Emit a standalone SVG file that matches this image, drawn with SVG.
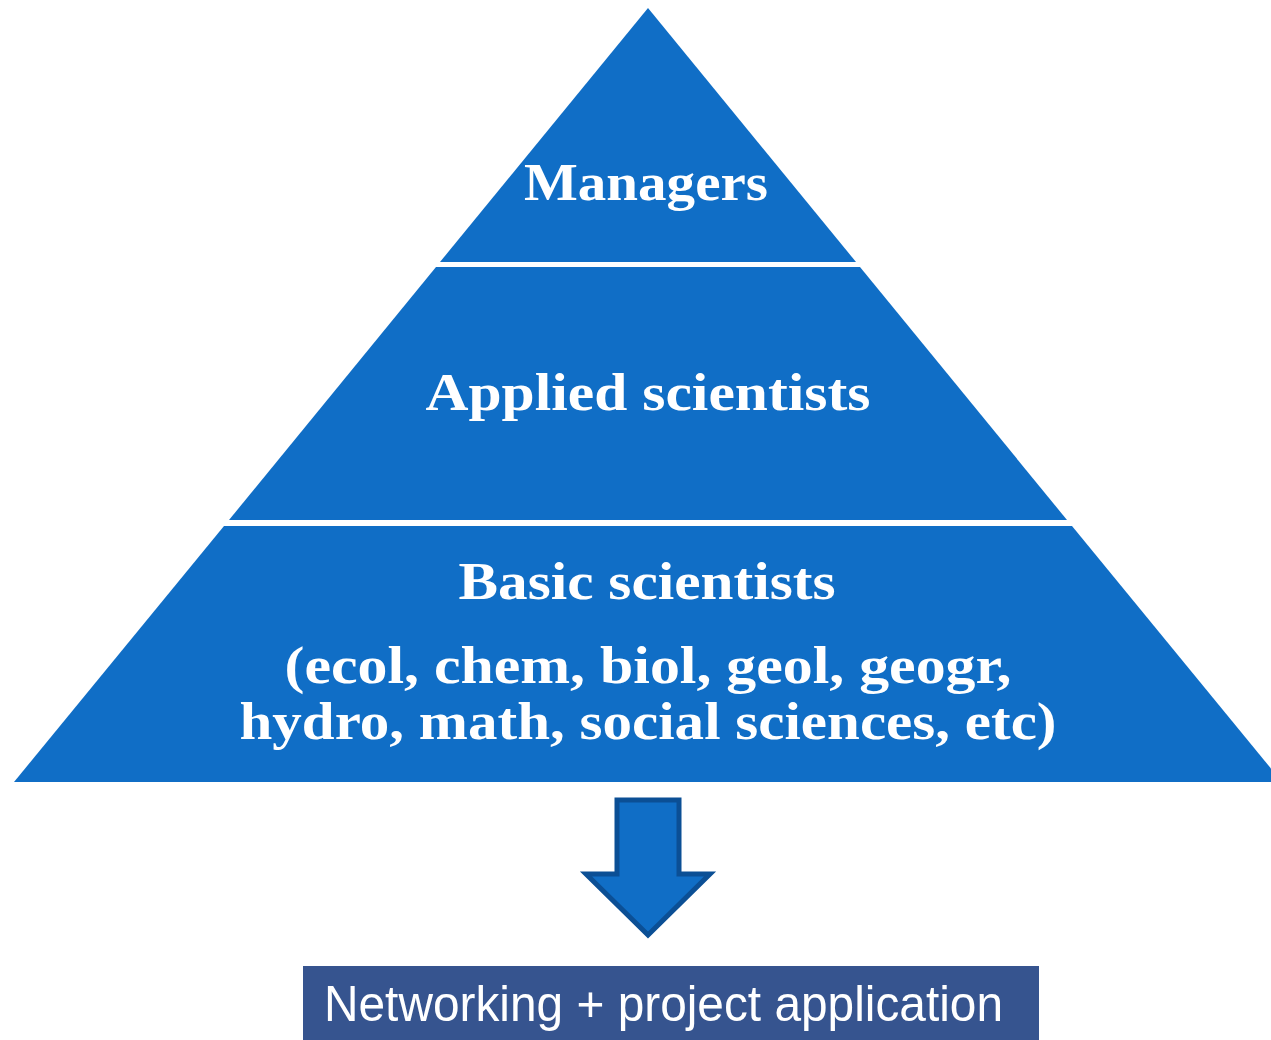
<svg xmlns="http://www.w3.org/2000/svg" width="1271" height="1040" viewBox="0 0 1271 1040">
  <style>
    .tier { fill: #106EC6; }
    .label { font-family: "Liberation Serif", "DejaVu Serif", serif; font-weight: bold; font-size: 53px; fill: #FFFFFF; }
    .box-text { font-family: "Liberation Sans", Arial, sans-serif; font-size: 50px; fill: #FFFFFF; }
  </style>
  <rect width="1271" height="1040" fill="#FFFFFF"/>

  <!-- pyramid tiers -->
  <g id="managers">
    <polygon class="tier" points="648,8 856,262 440,262"/>
    <text class="label" x="646" y="200" text-anchor="middle" textLength="244" lengthAdjust="spacingAndGlyphs">Managers</text>
  </g>
  <g id="applied-scientists">
    <polygon class="tier" points="436,267 860,267 1067,520 229,520"/>
    <text class="label" x="648" y="410" text-anchor="middle" textLength="445" lengthAdjust="spacingAndGlyphs">Applied scientists</text>
  </g>
  <g id="basic-scientists">
    <polygon class="tier" points="224,526 1072,526 1282,782 14,782"/>
    <text class="label" x="647" y="599" text-anchor="middle" textLength="377" lengthAdjust="spacingAndGlyphs">Basic scientists</text>
    <text class="label" x="648" y="683" text-anchor="middle" textLength="727" lengthAdjust="spacingAndGlyphs">(ecol, chem, biol, geol, geogr,</text>
    <text class="label" x="648" y="739" text-anchor="middle" textLength="817" lengthAdjust="spacingAndGlyphs">hydro, math, social sciences, etc)</text>
  </g>

  <!-- downward arrow -->
  <g id="connectors">
    <polygon points="617,800 679,800 679,874 710,874 648,935 586,874 617,874" fill="#106EC6" stroke="#0B4F95" stroke-width="5" stroke-linejoin="miter"/>
  </g>

  <!-- outcome box -->
  <g id="networking">
    <rect x="303" y="966" width="736" height="74" fill="#36548F"/>
    <text class="box-text" x="324" y="1021" textLength="679" lengthAdjust="spacingAndGlyphs">Networking + project application</text>
  </g>
</svg>
